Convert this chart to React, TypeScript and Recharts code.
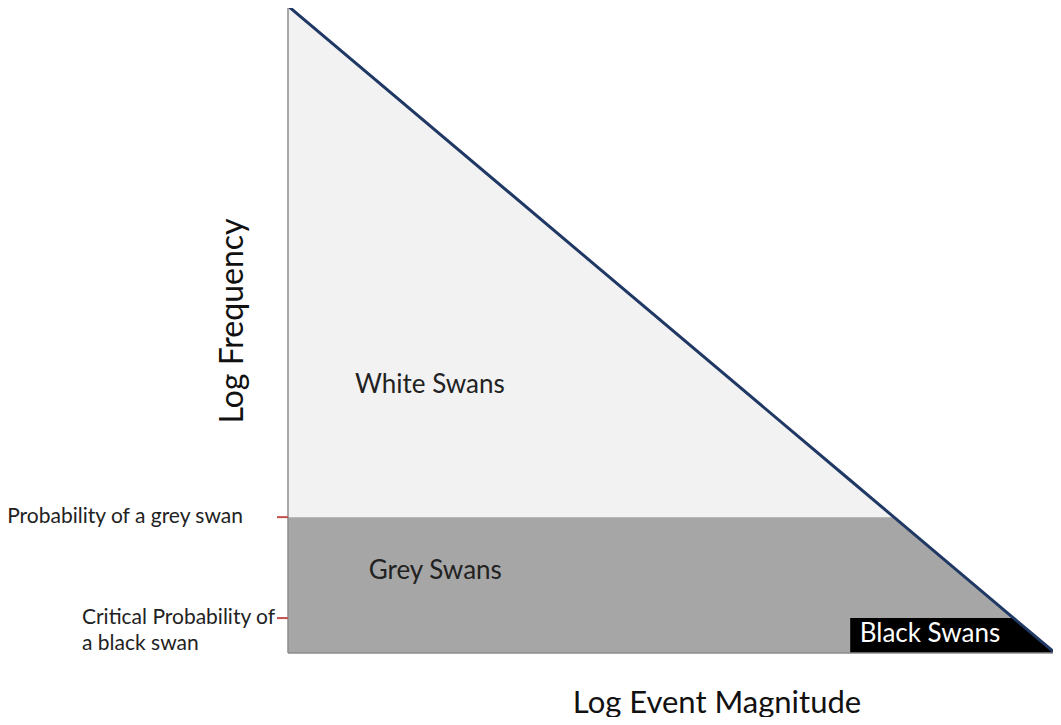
import {
  ComposedChart,
  Area,
  Line,
  XAxis,
  YAxis,
  ReferenceDot,
} from "recharts";

// log magnitude vs log frequency, both on a 0-100 scale
const magnitude = [0, 73.3, 79, 94.6, 100];
const frequency = [100, 26.7, 21, 5.4, 0];
const greyBand = [21, 21, 21, 5.4, 0];
const blackBand = [null, 5.4, 5.4, 5.4, 0];

const yTicks = [5.4, 21];

const data = magnitude.map((m, i) => ({
  m,
  freq: frequency[i],
  grey: greyBand[i],
  black: blackBand[i],
}));

const FONT = "Lato, 'Open Sans', sans-serif";
const FRAME = { stroke: "#8c8c8c", strokeWidth: 1.5 };

const YTick = (props: any) => {
  const { y, payload } = props;
  const isGrey = payload.value === 21;
  return (
    <g>
      <line x1={277} x2={288} y1={y} y2={y} stroke="#c0504d" strokeWidth={2} />
      {isGrey ? (
        <text x={243} y={y + 6} textAnchor="end" fontSize={21} fill="#222" fontFamily={FONT}>
          Probability of a grey swan
        </text>
      ) : (
        <g>
          <text x={82} y={y + 6} textAnchor="start" fontSize={21} fill="#222" fontFamily={FONT}>
            Critical Probability of
          </text>
          <text x={82} y={y + 32} textAnchor="start" fontSize={21} fill="#222" fontFamily={FONT}>
            a black swan
          </text>
        </g>
      )}
    </g>
  );
};

export default function App() {
  return (
    <div style={{ margin: -8, background: "#fff" }}>
      <ComposedChart
        width={1061}
        height={725}
        data={data}
        margin={{ top: 6, right: 6, bottom: 0, left: 0 }}
      >
        <XAxis
          dataKey="m"
          type="number"
          domain={[0, 100]}
          tick={false}
          tickLine={false}
          axisLine={FRAME}
          height={72}
          label={{
            content: () => (
              <text x={717} y={713} textAnchor="middle" fontSize={31} fill="#111" fontFamily={FONT}>
                Log Event Magnitude
              </text>
            ),
          }}
        />
        <XAxis
          xAxisId="top"
          orientation="top"
          dataKey="m"
          type="number"
          domain={[0, 100]}
          tick={false}
          tickLine={false}
          axisLine={FRAME}
          height={0}
        />
        <YAxis
          type="number"
          domain={[0, 100]}
          ticks={yTicks}
          tick={<YTick />}
          tickLine={false}
          axisLine={FRAME}
          width={288}
          label={{
            content: () => (
              <text
                x={243}
                y={321}
                transform="rotate(-90, 243, 321)"
                textAnchor="middle"
                fontSize={32}
                fill="#111"
                fontFamily={FONT}
              >
                Log Frequency
              </text>
            ),
          }}
        />
        <YAxis
          yAxisId="right"
          orientation="right"
          type="number"
          domain={[0, 100]}
          tick={false}
          tickLine={false}
          axisLine={FRAME}
          width={0}
        />
        <Area
          type="linear"
          dataKey="freq"
          stroke="none"
          fill="#f2f2f2"
          fillOpacity={1}
          isAnimationActive={false}
        />
        <Area
          type="linear"
          dataKey="grey"
          stroke="none"
          fill="#a6a6a6"
          fillOpacity={1}
          isAnimationActive={false}
        />
        <Area
          type="linear"
          dataKey="black"
          stroke="none"
          fill="#000"
          fillOpacity={1}
          isAnimationActive={false}
        />
        <Line
          xAxisId="top"
          yAxisId="right"
          type="linear"
          dataKey="freq"
          stroke="#1f3864"
          strokeWidth={3}
          dot={false}
          isAnimationActive={false}
        />
        <ReferenceDot
          x={18.5}
          y={41.6}
          r={0}
          label={{ value: "White Swans", position: "center", fontSize: 26, fill: "#222", fontFamily: FONT }}
        />
        <ReferenceDot
          x={19.2}
          y={12.8}
          r={0}
          label={{ value: "Grey Swans", position: "center", fontSize: 26, fill: "#222", fontFamily: FONT }}
        />
        <ReferenceDot
          x={83.7}
          y={3.2}
          r={0}
          label={{ value: "Black Swans", position: "center", fontSize: 26, fill: "#fff", fontFamily: FONT }}
        />
      </ComposedChart>
    </div>
  );
}
